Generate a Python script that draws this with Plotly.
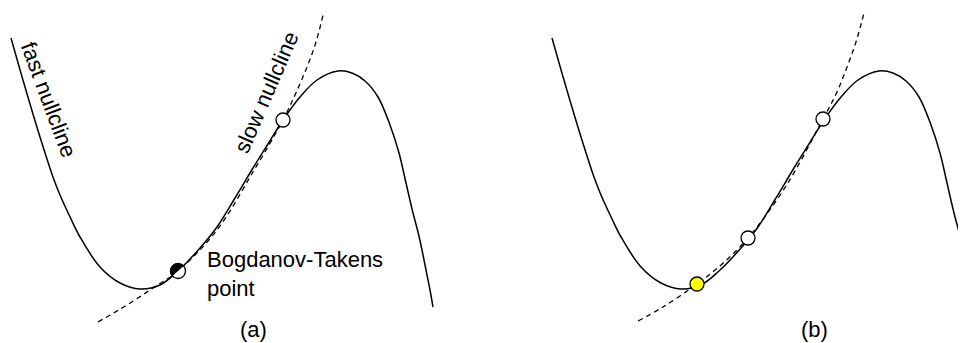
import numpy as np
import plotly.graph_objects as go
from plotly.subplots import make_subplots

# Fast nullcline (cubic-like curve), shared by both panels (v, w in drawing units)
fast_v = [11, 25, 40, 53, 60, 71, 80, 100, 120, 140, 160, 178, 200, 217, 235, 253, 268, 283,
          300, 317, 338, 352, 365, 378, 390, 399, 406, 413, 418, 422, 426, 430, 433]
fast_w = [38, 87, 137, 177, 195, 219, 237, 267, 283, 289, 285, 271, 248, 227, 198, 168, 144, 120,
          97, 80, 71, 73, 81, 97, 125, 153, 183, 213, 232, 250, 270, 290, 307]

# Slow nullcline, panel (a): tangent at the Bogdanov-Takens point
slow_a_v = [98, 127, 153, 178, 217, 253, 283, 295, 307, 316, 323]
slow_a_w = [322, 305, 288, 271, 230, 172, 120, 95, 67, 42, 15]

# Slow nullcline, panel (b): three intersections
slow_b_v = [97, 122, 156, 180, 207, 245, 282, 296, 306, 315, 323]
slow_b_w = [321, 307, 284, 265, 238, 186, 119, 92, 67, 42, 13]

# Equilibria
bt_v, bt_w = [178], [271]
open_a_v, open_a_w = [283], [120]
yellow_b_v, yellow_b_w = [156], [284]
open_b_v, open_b_w = [207, 282], [238, 119]

fig = make_subplots(rows=1, cols=2, horizontal_spacing=0)

LW = 1.5
for col, (sv, sw) in enumerate([(slow_a_v, slow_a_w), (slow_b_v, slow_b_w)], start=1):
    fig.add_trace(go.Scatter(x=fast_v, y=fast_w, mode="lines", line=dict(color="black", width=LW, shape="spline", smoothing=1.0),
                             hoverinfo="skip", showlegend=False), row=1, col=col)
    fig.add_trace(go.Scatter(x=sv, y=sw, mode="lines", line=dict(color="black", width=1.3, dash="5px,4px", shape="spline", smoothing=1.0),
                             hoverinfo="skip", showlegend=False), row=1, col=col)

# Bogdanov-Takens point: half-filled circle (white disc + black half)
R = 7.5
th = np.linspace(0, 2 * np.pi, 61)
fig.add_trace(go.Scatter(x=bt_v[0] + R * np.cos(th), y=bt_w[0] - R * np.sin(th), mode="lines", fill="toself",
                         fillcolor="white", line=dict(color="black", width=1.3), hoverinfo="skip", showlegend=False), row=1, col=1)
ang = np.deg2rad(42)
th2 = np.linspace(ang, ang + np.pi, 31)
fig.add_trace(go.Scatter(x=bt_v[0] + R * np.cos(th2), y=bt_w[0] - R * np.sin(th2), mode="lines", fill="toself",
                         fillcolor="black", line=dict(color="black", width=1.0), hoverinfo="skip", showlegend=False), row=1, col=1)

mk = dict(size=14, line=dict(color="black", width=1.3))
fig.add_trace(go.Scatter(x=open_a_v, y=open_a_w, mode="markers", marker=dict(color="white", **mk),
                         hoverinfo="skip", showlegend=False), row=1, col=1)
fig.add_trace(go.Scatter(x=open_b_v, y=open_b_w, mode="markers", marker=dict(color="white", **mk),
                         hoverinfo="skip", showlegend=False), row=1, col=2)
fig.add_trace(go.Scatter(x=yellow_b_v, y=yellow_b_w, mode="markers", marker=dict(color="#ffff00", **mk),
                         hoverinfo="skip", showlegend=False), row=1, col=2)

FONT = dict(family="Liberation Sans, Arial, Helvetica, sans-serif", size=22, color="black")
ann = [
    dict(text="fast nullcline", x=49, y=99, textangle=69.6, xref="x", yref="y"),
    dict(text="slow nullcline", x=266, y=92, textangle=-66.6, xref="x", yref="y"),
    dict(text="Bogdanov-Takens<br>point", x=205, y=274, xanchor="left", align="left", xref="x", yref="y"),
    dict(text="(a)", x=253, y=329, xref="x", yref="y"),
    dict(text="(b)", x=814 - 541, y=329, xref="x2", yref="y2"),
]
for a in ann:
    a.setdefault("xanchor", "center")
    fig.add_annotation(showarrow=False, yanchor="middle", font=FONT, **a)

# The page body has an 8px default margin: shift the ranges so marks land where they should.
OFF = 8
fig.update_xaxes(visible=False, showgrid=False, zeroline=False)
fig.update_yaxes(visible=False, showgrid=False, zeroline=False, range=[343 + OFF, OFF])
fig.update_xaxes(range=[OFF, 483 + OFF], row=1, col=1)
fig.update_xaxes(range=[OFF - 58, 425 + OFF], row=1, col=2)

fig.update_layout(width=966, height=343, margin=dict(l=0, r=0, t=0, b=0),
                  paper_bgcolor="white", plot_bgcolor="white")

fig.write_html("out.html")
